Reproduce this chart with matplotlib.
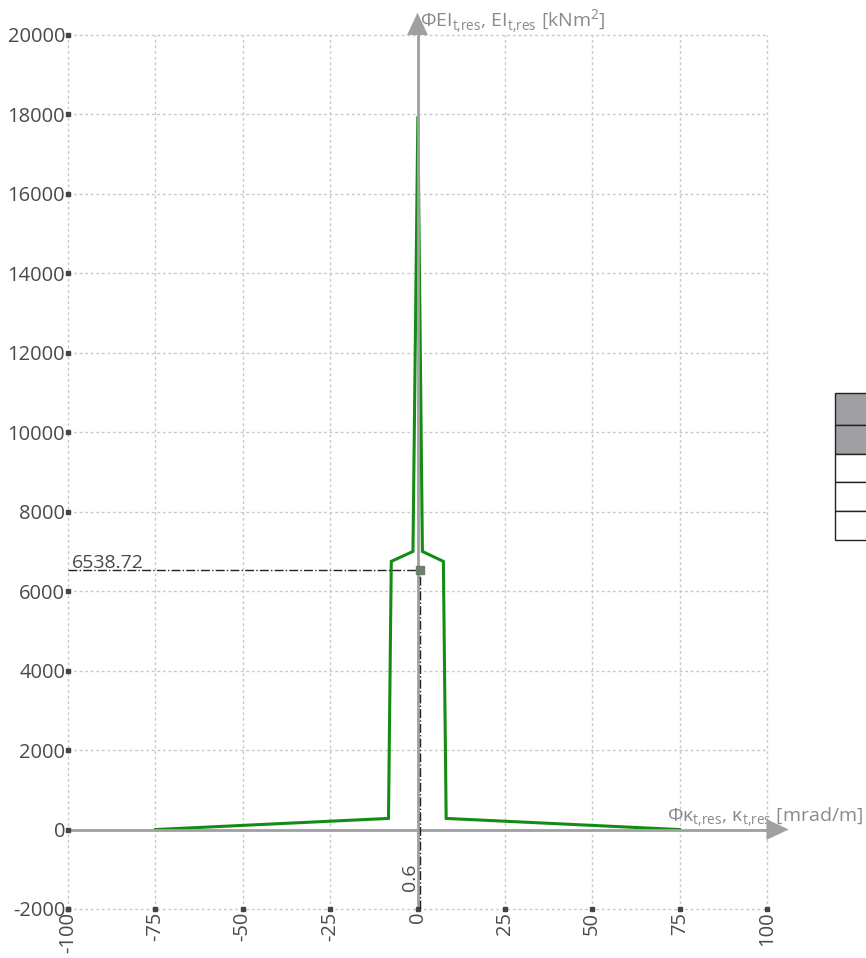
import matplotlib.pyplot as plt
from matplotlib.patches import Rectangle

plt.rcParams['font.family'] = ['Open Sans', 'DejaVu Sans']
plt.rcParams['mathtext.fontset'] = 'custom'
plt.rcParams['mathtext.rm'] = 'Open Sans'

# curvature vs. torsional stiffness curve
kappa = [-75, -8.3, -7.5, -1.3, 0.1, 1.4, 7.4, 8.2, 75]
stiffness = [0, 280, 6750, 7000, 17950, 7000, 6750, 280, 0]

# marked point
point_x = 0.6
point_y = 6538.72

x_ticks = [-100, -75, -50, -25, 0, 25, 50, 75, 100]
y_ticks = list(range(-2000, 20001, 2000))

axis_gray = '#a0a0a4'
text_gray = '#4a4a4a'

fig = plt.figure(figsize=(8.66, 9.58), dpi=100)
ax = fig.add_axes([68 / 866, 1 - 909 / 958, (767 - 68) / 866, (909 - 35) / 958])
ax.set_xlim(-100, 100)
ax.set_ylim(-2000, 20000)
for side in ax.spines.values():
    side.set_visible(False)

# dashed grid, drawn as plain lines so the frame edges show too
for xv in x_ticks:
    ax.axvline(xv, color='#c8c8c4', lw=1, ls=(0, (2, 2)), zorder=0, clip_on=False)
for yv in y_ticks:
    ax.axhline(yv, color='#c8c8c4', lw=1, ls=(0, (2, 2)), zorder=0, clip_on=False)

ax.set_xticks(x_ticks)
ax.set_yticks(y_ticks)
ax.set_xticklabels([str(v) for v in x_ticks], rotation=90, fontsize=14.5, color=text_gray)
ax.set_yticklabels([str(v) for v in y_ticks], fontsize=14.5, color=text_gray)
ax.tick_params(length=0, pad=2)

# small square tick marks on the frame
ax.plot([-100] * len(y_ticks), y_ticks, 's', ms=2.7, color='#444444', clip_on=False, zorder=5)
ax.plot(x_ticks, [-2000] * len(x_ticks), 's', ms=2.7, color='#444444', clip_on=False, zorder=5)

# the curve
ax.plot(kappa, stiffness, color='#148c14', lw=2.2, zorder=3, solid_joinstyle='miter')

# axes through the origin with arrows
arrow = dict(arrowstyle='-|>,head_length=1.6,head_width=0.75',
             color=axis_gray, lw=0, shrinkA=0, shrinkB=0)
ax.plot([-100, 101], [0, 0], color=axis_gray, lw=2, zorder=4, clip_on=False)
ax.plot([0, 0], [-2000, 20100], color=axis_gray, lw=2, zorder=4, clip_on=False)
ax.annotate('', xy=(106.2, 0), xytext=(98, 0), annotation_clip=False,
            arrowprops=arrow, zorder=4)
ax.annotate('', xy=(0, 20560), xytext=(0, 19700), annotation_clip=False,
            arrowprops=arrow, zorder=4)

ax.text(0.8, 20190, r'ΦEI$_{\mathrm{t{,}res}}$, EI$_{\mathrm{t{,}res}}$ [kNm$^{\mathrm{2}}$]',
        fontsize=14, color='#8a8a8a', ha='left', va='baseline', clip_on=False)
ax.text(71.5, 190, r'Φκ$_{\mathrm{t{,}res}}$, κ$_{\mathrm{t{,}res}}$ [mrad/m]',
        fontsize=14, color='#8a8a8a', ha='left', va='baseline', clip_on=False)

# marked point with guide lines
ax.plot([-100, point_x], [point_y, point_y], color='#222222', lw=1, ls='-.', zorder=6)
ax.plot([point_x, point_x], [-2000, point_y], color='#222222', lw=1, ls='-.', zorder=6)
ax.plot(point_x, point_y, 's', ms=6, color='#6f7f6f', zorder=7)
ax.text(-99, point_y - 60, f'{point_y:.2f}', fontsize=14, color=text_gray,
        ha='left', va='bottom')
ax.text(point_x - 0.2, -1550, f'{point_x}', fontsize=14, color=text_gray,
        rotation=90, ha='right', va='bottom')

# partial table at the right edge
rows = [(393, 425, '#a0a0a4'), (425, 454, '#a0a0a4'), (454, 482, 'white'),
        (482, 511, 'white'), (511, 540, 'white')]
for top, bottom, fill in rows:
    fig.patches.append(Rectangle((835 / 866, 1 - bottom / 958), 40 / 866, (bottom - top) / 958,
                                 transform=fig.transFigure, facecolor=fill,
                                 edgecolor='#222222', lw=1))

fig.savefig('out.png', dpi=100)
